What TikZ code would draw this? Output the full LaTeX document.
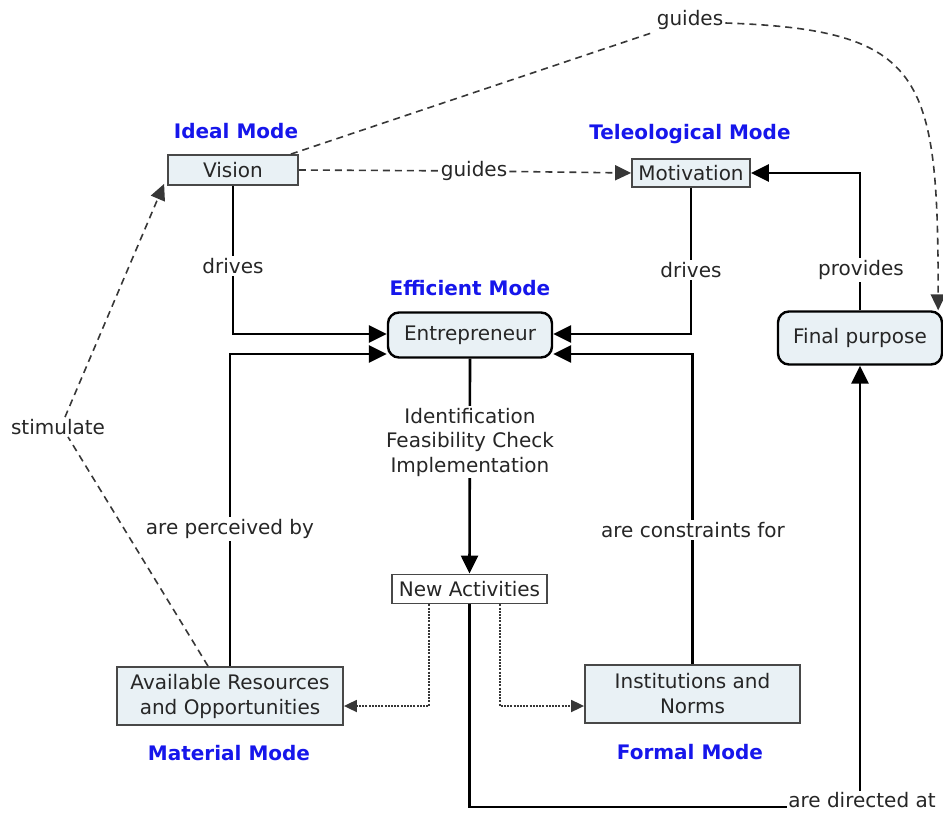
\documentclass[tikz,border=0pt]{standalone}
\usepackage{fontspec}
\setmainfont{DejaVu Sans}
\usetikzlibrary{arrows.meta}
\definecolor{modeblue}{RGB}{22,22,235}
\definecolor{boxfill}{RGB}{233,241,245}
\definecolor{boxline}{RGB}{72,72,72}
\definecolor{ink}{RGB}{38,38,38}
\definecolor{dashgray}{RGB}{55,55,55}

\begin{document}
\begin{tikzpicture}[x=1pt,y=-1pt,
  font=\fontsize{20}{25}\selectfont, text=ink,
  concept/.style={draw=boxline, line width=1.8pt, fill=boxfill, inner sep=0pt},
  keyconcept/.style={draw=black, line width=2.4pt, fill=boxfill, inner sep=0pt, rounded corners=11pt},
  plainbox/.style={draw=boxline, line width=1.8pt, fill=white, inner sep=0pt},
  modelabel/.style={text=modeblue, font=\fontsize{20}{25}\selectfont\bfseries},
  linklabel/.style={fill=white, inner sep=2pt, align=center},
  strong/.style={draw=black, line width=2.6pt, -{Triangle[length=18pt,width=17pt]}},
  strongline/.style={draw=black, line width=2.6pt},
  hint/.style={draw=dashgray, line width=1.6pt, dash pattern=on 7pt off 5pt},
  hintarrow/.style={hint, -{Triangle[length=16pt,width=15pt]}},
  trace/.style={draw=dashgray, line width=1.8pt, dash pattern=on 2pt off 1.2pt, -{Triangle[length=13pt,width=12pt]}}
]
\useasboundingbox (0,0) rectangle (943,813);

% concepts
\node[concept, minimum width=130pt, minimum height=30pt] (vision) at (233,170) {Vision};
\node[concept, minimum width=118pt, minimum height=28pt] (motiv) at (691,173) {Motivation};
\node[keyconcept, minimum width=164pt, minimum height=45pt] (entre) at (470,335) {Entrepreneur};
\node[keyconcept, minimum width=164pt, minimum height=53pt] (final) at (860,338) {Final purpose};
\node[plainbox, minimum width=155pt, minimum height=29pt] (newact) at (469.5,589) {New Activities};
\node[concept, minimum width=226pt, minimum height=58pt, align=center] (avail) at (230,696) {Available Resources\\and Opportunities};
\node[concept, minimum width=215pt, minimum height=58pt, align=center] (inst) at (692.5,694) {Institutions and\\Norms};

% mode captions
\node[modelabel] (idealmode) at (236,131) {Ideal Mode};
\node[modelabel] (telemode) at (690,134) {Teleological Mode};
\node[modelabel] (effmode) at (470,288) {Efficient Mode};
\node[modelabel] (matmode) at (229,753) {Material Mode};
\node[modelabel] (formode) at (690,752) {Formal Mode};

% solid links into the entrepreneur
\draw[strong] (vision.south) |- ([yshift=1pt]entre.west);
\draw[strong] (avail.north) |- ([yshift=-19pt]entre.west);
\draw[strong] (motiv.south) |- ([yshift=1pt]entre.east);
\draw[strong] (inst.north) |- ([yshift=-19pt]entre.east);
\draw[strong] (entre.south) -- (newact.north);
\draw[strong] (final.north) |- (motiv.east);

% new activities are directed at the final purpose
\node[linklabel, inner sep=1pt] (dirat) at (862,800) {are directed at};
\draw[strongline] (newact.south) |- ([yshift=-7pt]dirat.west);
\draw[strong] (dirat.north -| final.south) -- (final.south);

% dotted feedback from new activities
\draw[trace] ([xshift=-40.5pt]newact.south) |- ([yshift=-10pt]avail.east);
\draw[trace] ([xshift=30.5pt]newact.south) |- ([yshift=-12pt]inst.west);

% labels on the solid links
\node[linklabel] (drives1) at (233,266) {drives};
\node[linklabel] (drives2) at (691,270) {drives};
\node[linklabel] (provides) at (861,270) {provides};
\node[linklabel] (perceived) at (230,529) {are perceived by};
\node[linklabel] (constraints) at (693,530) {are constraints for};
\node[linklabel, font=\fontsize{20}{24.5}\selectfont] (steps) at (470,442) {Identification\\Feasibility Check\\Implementation};

% dashed links
\node[linklabel] (guidesmid) at (474,171) {guides};
\draw[hint] (vision.east) -- (guidesmid);
\draw[hintarrow] (guidesmid) -- (motiv.west);

\node[linklabel] (guidestop) at (690,20) {guides};
\draw[hint] ([xshift=-8pt]vision.north east) -- (guidestop.south west);
\draw[hintarrow] ([yshift=-3pt]guidestop.east) .. controls (925,30) and (938,75) .. ([xshift=-5pt]final.north east);

\node[linklabel] (stim) at (58,427) {stimulate};
\draw[hint] ([xshift=-22pt]avail.north) -- ([xshift=10pt]stim.south);
\draw[hintarrow] ([xshift=7pt]stim.north) -- ([xshift=-3pt,yshift=2pt]vision.south west);
\end{tikzpicture}
\end{document}
